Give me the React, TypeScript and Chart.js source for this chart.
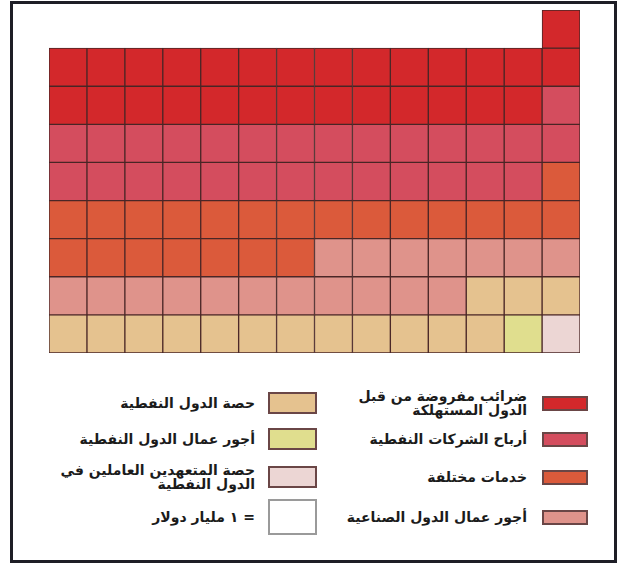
import React, { useEffect, useRef } from 'react';
import { Chart, registerables } from 'chart.js';

Chart.register(...registerables);

// Legend / category labels (RTL order: right column first, then left column)
const categories = [
  'ضرائب مفروضة من قبل\nالدول المستهلكة',
  'أرباح الشركات النفطية',
  'خدمات مختلفة',
  'أجور عمال الدول الصناعية',
  'حصة الدول النفطية',
  'أجور عمال الدول النفطية',
  'حصة المتعهدين العاملين في\nالدول النفطية',
];
// Number of cells per category (1 cell = 1 billion dollars)
const cellCounts = [28, 28, 22, 18, 15, 1, 1];
const colors = ['#d3282b', '#d44d5e', '#db5a3b', '#df938b', '#e5c28f', '#e0de8e', '#ecd6d4'];
const unitLabel = '= ١ مليار دولار';
const gridColumns = 14;

function buildDatasets() {
  const data: { x: number; y: [number, number] }[][] = categories.map(() => []);
  let i = 0;
  // Fill starts at bottom-right and runs right-to-left, then upwards
  for (let k = categories.length - 1; k >= 0; k--) {
    for (let n = 0; n < cellCounts[k]; n++) {
      const col = gridColumns - 1 - (i % gridColumns);
      const row = Math.floor(i / gridColumns);
      data[k].push({ x: col + 0.5, y: [row, row + 1] });
      i++;
    }
  }
  const rows = Math.ceil(i / gridColumns);
  return { data, rows };
}

export default function App() {
  const ref = useRef<HTMLCanvasElement>(null);

  useEffect(() => {
    if (!ref.current) return;
    const { data, rows } = buildDatasets();
    const chart = new Chart(ref.current, {
      type: 'bar',
      data: {
        datasets: categories.map((label, k) => ({
          label,
          data: data[k] as any,
          backgroundColor: colors[k],
          borderColor: '#4a2626',
          borderWidth: 1,
          borderSkipped: false,
          grouped: false,
          categoryPercentage: 1,
          barPercentage: 1,
        })),
      },
      options: {
        animation: false,
        responsive: false,
        maintainAspectRatio: false,
        layout: { padding: 5 },
        plugins: { legend: { display: false }, tooltip: { enabled: false } },
        scales: {
          x: { type: 'linear', min: 0, max: gridColumns, offset: false, display: false, ticks: { stepSize: 1 } },
          y: { type: 'linear', min: 0, max: rows, offset: false, display: false, ticks: { stepSize: 1 } },
        },
      },
    } as any);
    return () => chart.destroy();
  }, []);

  const legendItems = [
    ...categories.map((label, k) => ({ label, color: colors[k], unit: false })),
    { label: unitLabel, color: '#ffffff', unit: true },
  ];

  return (
    <div style={{ position: 'absolute', left: 0, top: 0, width: 619, height: 564, background: '#fff', overflow: 'hidden' }}>
      <div
        style={{
          position: 'absolute',
          left: 10,
          top: 1,
          width: 607,
          height: 562,
          boxSizing: 'border-box',
          border: '3px solid #1e1e26',
        }}
      />
      <canvas
        ref={ref}
        width={541}
        height={353}
        style={{ position: 'absolute', left: 44, top: 5, width: 541, height: 353 }}
      />
      <div
        style={{
          position: 'absolute',
          left: 46,
          top: 385,
          width: 542,
          direction: 'rtl',
          display: 'grid',
          gridTemplateColumns: '271px 271px',
          gridTemplateRows: '36px 36px 40px 40px',
          gridAutoFlow: 'column',
        }}
      >
        {legendItems.map((it, idx) => {
          const rightCol = idx < 4;
          return (
            <div key={idx} style={{ display: 'flex', alignItems: 'center', gap: rightCol ? 15 : 13 }}>
              <div
                style={{
                  flex: 'none',
                  width: rightCol ? 46 : 49,
                  height: rightCol ? 15 : it.unit ? 36 : 22,
                  boxSizing: 'border-box',
                  background: it.color,
                  border: it.unit ? '2px solid #9a9a9a' : '2px solid #6a4646',
                }}
              />
              <div
                style={{
                  font: 'bold 14px "DejaVu Sans", sans-serif',
                  lineHeight: '14px',
                  whiteSpace: 'pre-line',
                  color: '#1b1b1b',
                }}
              >
                {it.label}
              </div>
            </div>
          );
        })}
      </div>
    </div>
  );
}
